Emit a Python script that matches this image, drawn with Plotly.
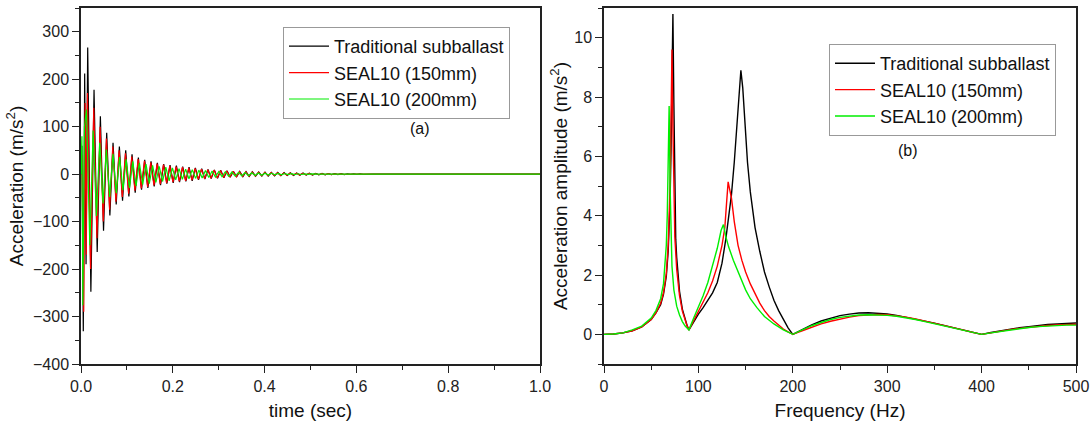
import numpy as np
import plotly.graph_objects as go

# ---------------- (a) time history: extrema ----------------
# early irregular part (time, value)
t_early_black = [0.0, 0.002, 0.005, 0.008, 0.011]
a_early_black = [0, 60, -331, 212, -190]
t_early_red = [0.0, 0.002, 0.006, 0.009, 0.0115]
a_early_red = [0, 40, -290, 150, -170]
t_early_green = [0.0, 0.002, 0.004, 0.0075]
a_early_green = [0, 80, -276, 100]

# regular oscillation: start time, half period, successive extrema
t0_black, hp_black = 0.0146, 0.0069
peaks_black = [267, -248, 178, -164, 122, -119, 87, -87, 66, -64, 58, -56, 50, -47, 42, -39,
               35, -33, 30, -29, 27, -26, 24, -23, 21, -20, 19, -18.5, 18, -17, 16, -15,
               14.5, -14, 13, -12, 11.5, -10.5, 10, -9.5, 9, -8.5, 8, -7.5, 7, -6.5, 6, -5.8,
               5.6, -5.4, 5.2, -5, 4.8, -4.5, 4.4, -4.2, 4.1, -4, 3.8, -3.6, 3.5, -3.3, 3.1, -3,
               2.8, -2.7, 2.5, -2.4, 2.2, -2.1, 1.9, -1.8, 1.6, -1.5, 1.4, -1.3, 1.2, -1.1, 1,
               -0.9, 0.85, -0.8, 0.7, -0.6, 0.55, -0.5, 0.4, -0.3, 0.25, -0.2, 0.1, -0.05, 0]
t0_red, hp_red = 0.0140, 0.0069
peaks_red = [171, -200, 140, -135, 100, -100, 75, -75, 58, -58, 50, -48, 44, -41, 37, -35,
             32, -30, 28, -27, 25, -24, 22, -21, 20, -19, 17.5, -17, 16, -15.5, 14.5, -14,
             13, -12.5, 12, -11, 10.5, -10, 9.5, -9, 8.5, -8, 7.5, -7, 6.5, -6.2, 6, -5.6,
             5.3, -5, 4.8, -4.6, 4.4, -4.2, 4, -3.8, 3.6, -3.4, 3.2, -3, 2.9, -2.7, 2.6, -2.4,
             2.3, -2.1, 2, -1.8, 1.7, -1.6, 1.5, -1.4, 1.3, -1.2, 1.1, -1, 0.9, -0.8, 0.7,
             -0.6, 0.5, -0.4, 0.3, -0.25, 0.2, -0.1, 0]
t0_green, hp_green = 0.0120, 0.0072
peaks_green = [136, -150, 92, -88, 66, -62, 52, -48, 43, -40, 36, -34, 31, -29, 27, -25,
               23.5, -22, 21, -20, 18.5, -17.5, 16.5, -15.5, 14.5, -14, 13, -12, 11.5, -11,
               10.5, -10, 9.5, -9, 8.5, -8, 7.5, -7, 6.5, -6, 5.5, -5.2, 5, -4.7, 4.4, -4.1,
               3.8, -3.5, 3.3, -3.1, 2.9, -2.7, 2.5, -2.3, 2.1, -1.9, 1.7, -1.6, 1.4, -1.3,
               1.2, -1.1, 1.0, -0.9, 0.8, -0.7, 0.6, -0.5, 0.4, -0.3, 0.2, -0.1, 0]

# ---------------- (b) spectra ----------------
f_tail = [210, 220, 230, 240, 250, 260, 270, 280, 290, 300, 310, 320, 330, 340, 350, 360, 370,
          380, 390, 400, 410, 420, 430, 440, 450, 460, 470, 480, 490, 500]

f_black = [0, 10, 20, 30, 40, 50, 55, 60, 63, 66, 68, 70, 71, 72, 73, 74, 75, 76, 77, 80, 83, 86,
           88, 90, 95, 100, 105, 110, 115, 120, 125, 129, 132, 135, 138, 141, 143, 145, 147, 149,
           152, 155, 160, 165, 170, 175, 180, 185, 190, 195, 200] + f_tail
a_black = [0, 0.01, 0.05, 0.12, 0.25, 0.5, 0.72, 1.0, 1.35, 1.95, 2.8, 4.5, 6.2, 9.0, 10.8, 7.8,
           4.5, 3.2, 2.6, 1.45, 0.85, 0.48, 0.3, 0.15, 0.42, 0.68, 0.9, 1.15, 1.4, 1.75, 2.4, 3.2,
           3.9, 4.7, 5.8, 7.2, 8.2, 8.9, 8.3, 7.2, 5.8, 4.8, 3.6, 2.8, 2.1, 1.6, 1.15, 0.8, 0.5,
           0.22, 0,
           0.17, 0.32, 0.45, 0.55, 0.63, 0.68, 0.72, 0.73, 0.72, 0.69, 0.64, 0.58, 0.52, 0.45,
           0.38, 0.3, 0.22, 0.15, 0.07, 0, 0.06, 0.12, 0.17, 0.22, 0.26, 0.3, 0.33, 0.35, 0.37,
           0.38]

f_red = [0, 10, 20, 30, 40, 50, 55, 60, 63, 66, 68, 69, 70, 71, 72, 73, 74, 75, 77, 80, 83, 86,
         88, 90, 95, 100, 105, 110, 115, 120, 125, 128, 130, 131.5, 133, 135, 138, 142, 146, 150,
         155, 160, 165, 170, 175, 180, 185, 190, 195, 200] + f_tail
a_red = [0, 0.01, 0.05, 0.12, 0.25, 0.5, 0.72, 1.05, 1.4, 2.05, 3.0, 3.8, 5.0, 7.2, 9.6, 7.0,
         4.6, 3.3, 2.2, 1.3, 0.78, 0.45, 0.28, 0.15, 0.45, 0.75, 1.05, 1.4, 1.8, 2.3, 3.0, 3.6,
         4.5, 5.14, 4.9, 4.6, 3.8, 3.0, 2.5, 2.1, 1.7, 1.35, 1.05, 0.8, 0.6, 0.45, 0.3, 0.18,
         0.08, 0,
         0.12, 0.24, 0.35, 0.44, 0.52, 0.58, 0.63, 0.66, 0.67, 0.66, 0.63, 0.58, 0.52, 0.45,
         0.38, 0.3, 0.22, 0.15, 0.07, 0, 0.05, 0.11, 0.16, 0.2, 0.24, 0.27, 0.3, 0.32, 0.33,
         0.34]

f_green = [0, 10, 20, 30, 40, 50, 55, 60, 63, 65, 66, 67, 68, 69, 70, 71, 72, 74, 77, 80, 83, 86,
           88, 90, 95, 100, 105, 110, 115, 120, 124, 126.5, 129, 132, 137, 144, 150, 155, 162,
           170, 180, 190, 200] + f_tail
a_green = [0, 0.01, 0.05, 0.15, 0.28, 0.55, 0.8, 1.2, 1.7, 2.5, 3.0, 4.0, 5.6, 7.7, 5.0, 3.2,
           2.3, 1.5, 0.95, 0.65, 0.43, 0.28, 0.2, 0.15, 0.55, 0.9, 1.3, 1.75, 2.3, 2.9, 3.5, 3.7,
           3.3, 2.95, 2.5, 1.95, 1.5, 1.2, 0.9, 0.6, 0.35, 0.15, 0,
           0.15, 0.29, 0.4, 0.5, 0.57, 0.62, 0.65, 0.66, 0.66, 0.64, 0.61, 0.56, 0.5, 0.43, 0.36,
           0.29, 0.21, 0.14, 0.07, 0, 0.05, 0.1, 0.15, 0.19, 0.23, 0.26, 0.28, 0.3, 0.31, 0.31]

names = ["Traditional subballast", "SEAL10 (150mm)", "SEAL10 (200mm)"]
colors = ["#000000", "#ff0000", "#00ee00"]


def build(t_early, a_early, t0, hp, peaks):
    t = list(t_early) + list(np.round(t0 + hp * np.arange(len(peaks)), 5)) + [1.0]
    a = list(a_early) + list(peaks) + [0]
    return t, a


series_a = [build(t_early_black, a_early_black, t0_black, hp_black, peaks_black),
            build(t_early_red, a_early_red, t0_red, hp_red, peaks_red),
            build(t_early_green, a_early_green, t0_green, hp_green, peaks_green)]
series_b = [(f_black, a_black), (f_red, a_red), (f_green, a_green)]

# ---------------- layout (pixel geometry of the reference) ----------------
W, H = 1092, 423
ML, MR, MT, MB = 81, 16, 8, 59
PW, PH = W - ML - MR, H - MT - MB


def px(x):
    return (x - ML) / PW


def py(y):
    return (H - MB - y) / PH


FONT = "Liberation Sans, Arial, sans-serif"
fig = go.Figure()
for (t, a), n, c in zip(series_a, names, colors):
    fig.add_trace(go.Scatter(x=t, y=a, mode="lines", name=n, line=dict(color=c, width=1.2),
                             xaxis="x", yaxis="y", legend="legend"))
for (f, a), n, c in zip(series_b, names, colors):
    fig.add_trace(go.Scatter(x=f, y=a, mode="lines", name=n, line=dict(color=c, width=1.4),
                             xaxis="x2", yaxis="y2", legend="legend2"))

axis_common = dict(showline=True, linecolor="#222", linewidth=1.5, mirror=True, showgrid=False,
                   zeroline=False, ticks="outside", ticklen=7, tickwidth=1.3, tickcolor="#222",
                   automargin=True,
                   tickfont=dict(family=FONT, size=16, color="#222"),
                   title_font=dict(family=FONT, size=19, color="#111"))

fig.update_layout(
    width=W, height=H,
    margin=dict(l=ML, r=MR, t=MT, b=MB, autoexpand=False),
    paper_bgcolor="white", plot_bgcolor="white",
    showlegend=True,
    xaxis=dict(domain=[0, px(540)], range=[0, 1], dtick=0.2, tickformat=".1f",
               minor=dict(ticks="outside", ticklen=4, dtick=0.1, tickcolor="#222"),
               title=dict(text="time (sec)", standoff=10), anchor="y", **axis_common),
    yaxis=dict(domain=[0, 1], range=[-400, 350], dtick=100,
               minor=dict(ticks="outside", ticklen=4, dtick=50, tickcolor="#222"),
               title=dict(text="Acceleration (m/s<sup>2</sup>)", standoff=4), anchor="x",
               **axis_common),
    xaxis2=dict(domain=[px(604), 1], range=[0, 500], dtick=100,
                minor=dict(ticks="outside", ticklen=4, dtick=50, tickcolor="#222"),
                title=dict(text="Frequency (Hz)", standoff=10), anchor="y2", **axis_common),
    yaxis2=dict(domain=[0, 1], range=[-1, 11], dtick=2,
                minor=dict(ticks="outside", ticklen=4, dtick=1, tickcolor="#222"),
                title=dict(text="Acceleration amplitude (m/s<sup>2</sup>)", standoff=2),
                anchor="x2", **axis_common),
    legend=dict(x=px(283), y=py(27), xanchor="left", yanchor="top",
                bordercolor="#999", borderwidth=1, bgcolor="white",
                font=dict(family=FONT, size=18, color="#111"), itemwidth=40,
                tracegroupgap=0),
    legend2=dict(x=px(829), y=py(44), xanchor="left", yanchor="top",
                 bordercolor="#999", borderwidth=1, bgcolor="white",
                 font=dict(family=FONT, size=18, color="#111"), itemwidth=40,
                 tracegroupgap=0),
    annotations=[
        dict(text="(a)", x=px(420), y=py(128), xref="paper", yref="paper",
             xanchor="center", yanchor="middle",
             showarrow=False, font=dict(family=FONT, size=16, color="#111")),
        dict(text="(b)", x=px(908), y=py(150), xref="paper", yref="paper",
             xanchor="center", yanchor="middle",
             showarrow=False, font=dict(family=FONT, size=16, color="#111")),
    ],
)

fig.write_html("out.html", config={"displayModeBar": False},
               post_script="document.body.style.margin='0';document.body.style.padding='0';")
